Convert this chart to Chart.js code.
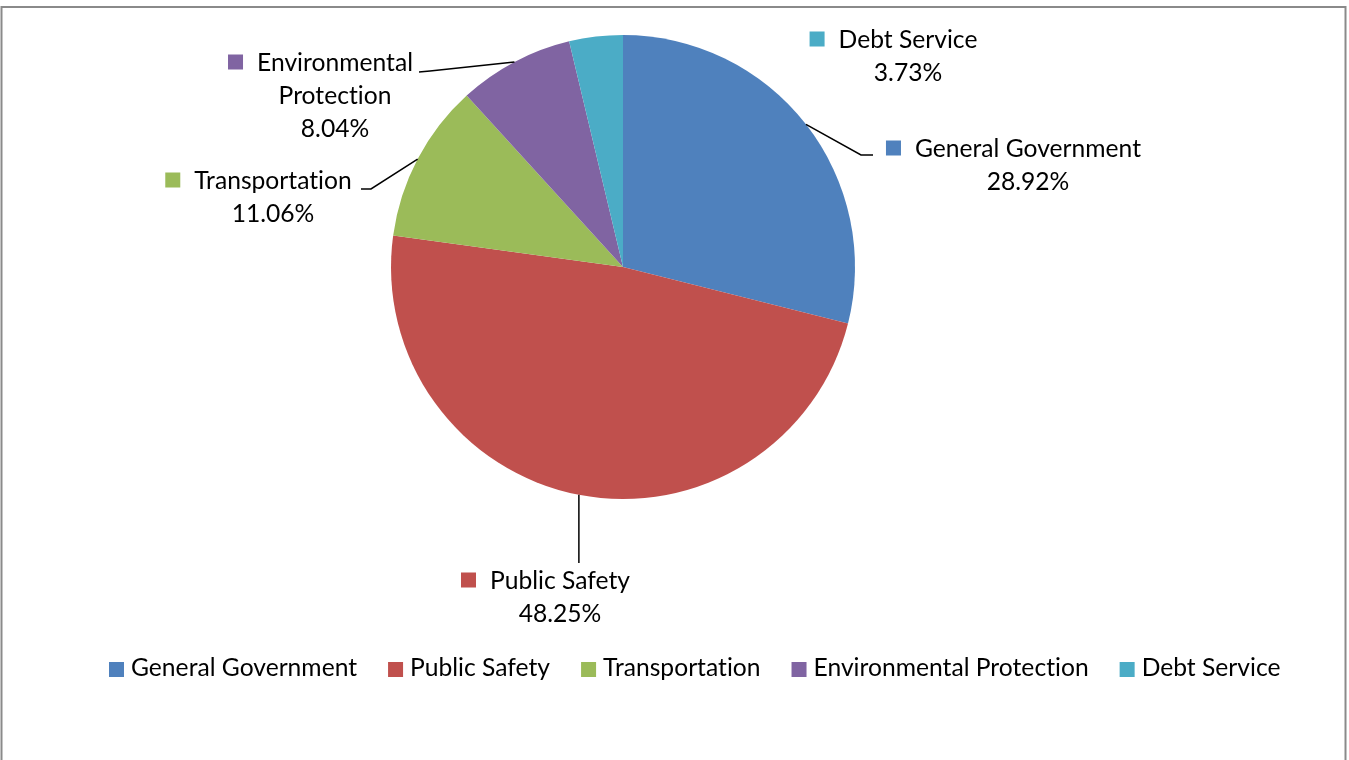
<!DOCTYPE html>
<html><head><meta charset="utf-8">
<script src="https://cdn.jsdelivr.net/npm/chart.js@4/dist/chart.umd.min.js"></script>
<style>html,body{margin:0;padding:0;background:#fff;overflow:hidden}#wrap{width:1349px;height:760px;position:relative}</style>
</head><body><div id="wrap"><canvas id="c"></canvas></div>
<script>
// ---- data ----
const categories = ['General Government', 'Public Safety', 'Transportation', 'Environmental Protection', 'Debt Service'];
const shares = [28.92, 48.25, 11.06, 8.04, 3.73];
const colors = ['#4F81BD', '#C0504D', '#9BBB59', '#8064A2', '#4BACC6'];

// ---- label layout (text placement only) ----
const labelLines = [['General Government'], ['Public Safety'], ['Transportation'], ['Environmental', 'Protection'], ['Debt Service']];
const labelCenterX = [1028, 560, 273, 335, 908];
const labelBaseY = [157, 589, 189, 71, 48];
const lineGap = 33;

const FONT_FAMILY = 'Lato, "Open Sans", sans-serif';
let FS = 24;

function noLig(ctx) {
  try { ctx.letterSpacing = '0.01px'; } catch (e) {}
  try { ctx.textRendering = 'optimizeSpeed'; } catch (e) {}
}

function fitFont(ctx) {
  ctx.save();
  noLig(ctx);
  ctx.font = '100px ' + FONT_FAMILY;
  const w = ctx.measureText('General Government').width;
  ctx.restore();
  FS = 100 * 226 / w;
}

const labelPlugin = {
  id: 'excelLabels',
  afterDraw(chart) {
    const ctx = chart.ctx;
    fitFont(ctx);
    const meta = chart.getDatasetMeta(0);
    ctx.save();
    // frame
    ctx.strokeStyle = '#8a8a8a';
    ctx.lineWidth = 2;
    ctx.strokeRect(1.5, 7, 1344, 800);

    noLig(ctx);
    ctx.font = FS + 'px ' + FONT_FAMILY;
    ctx.textBaseline = 'alphabetic';
    ctx.fillStyle = '#000';

    meta.data.forEach((arc, i) => {
      const p = arc.getProps(['x', 'y', 'startAngle', 'endAngle', 'outerRadius'], true);
      const mid = (p.startAngle + p.endAngle) / 2;
      const ex = p.x + Math.cos(mid) * p.outerRadius;
      const ey = p.y + Math.sin(mid) * p.outerRadius;
      const lines = labelLines[i].concat([shares[i].toFixed(2) + '%']);
      const cx = labelCenterX[i];
      const by = labelBaseY[i];
      // leader lines
      let path = null;
      if (i === 0) path = [[861, 155], [873, 155]];
      if (i === 1) path = [[ex, 563]];
      if (i === 2) path = [[371, 189], [361, 189]];
      if (i === 3) path = [[430, 71], [419, 72]];
      if (path) {
        ctx.beginPath();
        ctx.strokeStyle = '#000';
        ctx.lineWidth = 1.5;
        ctx.moveTo(ex, ey);
        path.forEach(pt => ctx.lineTo(pt[0], pt[1]));
        ctx.stroke();
      }
      ctx.textAlign = 'center';
      lines.forEach((t, k) => ctx.fillText(t, cx, by + k * lineGap));
      // key marker
      const w0 = ctx.measureText(lines[0]).width;
      const left = cx - w0 / 2;
      ctx.fillStyle = colors[i];
      ctx.fillRect(left - 14 - 15, by - 16.5, 15, 15);
      ctx.fillStyle = '#000';
    });

    // legend row
    let x = 109;
    const ly = 676;
    ctx.textAlign = 'left';
    categories.forEach((c, i) => {
      ctx.fillStyle = colors[i];
      ctx.fillRect(x, 662, 15, 15);
      ctx.fillStyle = '#000';
      ctx.fillText(c, x + 22, ly);
      x += 22 + ctx.measureText(c).width + 31;
    });
    ctx.restore();
  }
};

new Chart(document.getElementById('c'), {
  type: 'pie',
  data: {
    labels: categories,
    datasets: [{ data: shares, backgroundColor: colors, borderWidth: 0 }]
  },
  options: {
    responsive: true,
    maintainAspectRatio: false,
    animation: false,
    layout: { padding: { left: 391, right: 494, top: 35, bottom: 261 } },
    plugins: { legend: { display: false }, tooltip: { enabled: false } }
  },
  plugins: [labelPlugin]
});
</script>
</body></html>
